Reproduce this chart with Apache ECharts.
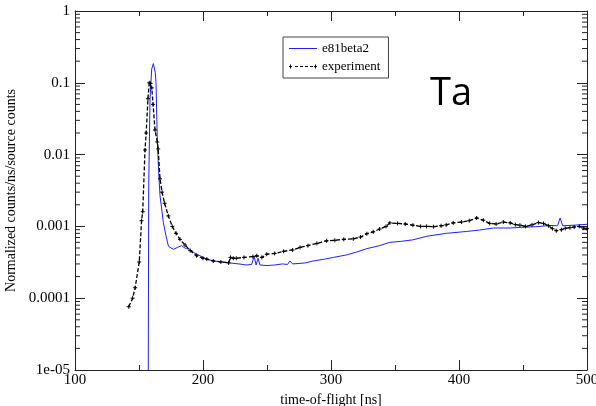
<!DOCTYPE html>
<html><head><meta charset="utf-8">
<script src="https://cdn.jsdelivr.net/npm/echarts@6/dist/echarts.min.js"></script>
<style>html,body{margin:0;padding:0;background:#fff}#c{width:596px;height:406px}</style>
</head><body><div id="c"></div>
<script>
// --- data ---
const simT = [157.2,157.6,158.6,159.9,161.2,162,162.7,163.3,164.3,165.3,166.4,169,171,173,175,177,178,180,183.3,185,187,190,193,197.7,203,208,214,221,228,234,238,240,241.5,243,244.5,250,256,262,266,268,270,280,286,295,302,312,320,328,338,346,355,364,375,390,406,416,427,440,449,460,471,477,479,481,490,500];
const simV = [5e-6,3.6e-3,0.059,0.155,0.185,0.188,0.14,0.1,0.016,0.006,0.0027,1.14e-3,7.5e-4,5.3e-4,5.0e-4,4.8e-4,5.0e-4,5.1e-4,5.4e-4,5.1e-4,4.9e-4,4.8e-4,4.3e-4,3.9e-4,3.5e-4,3.3e-4,3.2e-4,3.1e-4,3.0e-4,2.9e-4,2.95e-4,3.8e-4,2.9e-4,3.6e-4,2.9e-4,2.85e-4,2.9e-4,3.0e-4,2.95e-4,3.3e-4,3.0e-4,3.1e-4,3.3e-4,3.5e-4,3.7e-4,4.0e-4,4.4e-4,4.9e-4,5.4e-4,6.0e-4,6.2e-4,6.5e-4,7.3e-4,8.0e-4,8.5e-4,8.9e-4,9.5e-4,9.5e-4,9.7e-4,9.9e-4,1.03e-3,1.02e-3,1.31e-3,1.02e-3,1.04e-3,1.07e-3];
const expT = [142,145,147,150.2,152,152.9,154.7,155.6,157,158,159,160,161,162.5,164.3,165,166.4,168,170,172.9,176,179,182,186,190,195,200,203,208,214,220,221.5,223.7,226,232,239,242,246,249.8,256,263,270,275.8,282,289,296.6,303,310,317.4,323,328,333,338,343,346,352,358,364,370,374.7,380,386,390,395.5,402,408,413.8,419,424,429,434.6,440,444,447.6,452,457,462,466,470,473,476,480,483,486.7,490,494,497,500];
const expV = [7.6e-5,1.0e-4,1.4e-4,3.2e-4,1.2e-3,1.6e-3,0.0116,0.02,0.06,0.1,0.098,0.085,0.05,0.022,0.015,0.012,0.0046,0.003,0.0021,0.0014,0.001,8e-4,6.6e-4,5.5e-4,4.6e-4,3.9e-4,3.6e-4,3.5e-4,3.3e-4,3.2e-4,3.1e-4,3.7e-4,3.6e-4,3.6e-4,3.7e-4,3.8e-4,3.9e-4,3.7e-4,4.1e-4,4.2e-4,4.5e-4,4.7e-4,5.1e-4,5.4e-4,5.8e-4,6.3e-4,6.4e-4,6.6e-4,6.7e-4,7.1e-4,7.9e-4,8.4e-4,9.2e-4,1.0e-3,1.12e-3,1.1e-3,1.08e-3,1.04e-3,1.0e-3,1.0e-3,0.99e-3,1.02e-3,1.05e-3,1.12e-3,1.15e-3,1.2e-3,1.31e-3,1.22e-3,1.1e-3,1.08e-3,1.15e-3,1.12e-3,1.06e-3,1.04e-3,1.0e-3,1.05e-3,1.13e-3,1.1e-3,1.02e-3,0.93e-3,0.87e-3,0.9e-3,0.94e-3,0.96e-3,0.98e-3,1.0e-3,0.95e-3,0.93e-3];
const yTickLabels = {'-5':'1e-05','-4':'0.0001','-3':'0.001','-2':'0.01','-1':'0.1','0':'1'};
const xTickLabels = ['100','200','300','400','500'];
const seriesNames = ['e81beta2','experiment'];

// --- chart ---
const zip = (a,b)=>a.map((t,i)=>[t,b[i]]);
const minorY = [];
for (let e=-5;e<0;e++) for (let k=2;k<=9;k++) minorY.push([100, k*Math.pow(10,e)]);
const serif = 'Liberation Serif';
const ax = '#222';
const iconBlue = 'path://M0,0h0.01v0.01h-0.01z M0,2.5h28v1h-28z M0,5.99h0.01v0.01h-0.01z';
const iconBlack = 'path://M0,2.5h3v1h-3z M1,1h1v4h-1z M6,2.5h3v1h-3z M11,2.5h3v1h-3z M16,2.5h3v1h-3z M21,2.5h3v1h-3z M25,2.5h3v1h-3z M26,1h1v4h-1z M0,0h0.01v0.01h-0.01z M0,5.99h0.01v0.01h-0.01z';
const chart = echarts.init(document.getElementById('c'));
const richT = {t:{fontFamily:serif, fontSize:15, color:'#000', fontWeight:'normal'}};
const xBase = {type:'value', min:100, max:500, interval:100,
  axisLine:{show:true, onZero:false, lineStyle:{color:ax, width:1}},
  axisTick:{show:true, inside:true, length:10, lineStyle:{color:ax}},
  minorTick:{show:true, splitNumber:2, length:5, lineStyle:{color:ax}},
  splitLine:{show:false}};
const yBase = {type:'log', min:1e-5, max:1, logBase:10,
  axisLine:{show:true, onZero:false, lineStyle:{color:ax, width:1}},
  axisTick:{show:true, inside:true, length:10, lineStyle:{color:ax}},
  splitLine:{show:false}};
chart.setOption({
  animation:false,
  backgroundColor:'#fff',
  textStyle:{fontFamily:serif},
  title:{text:'Ta', left:425, top:70, textStyle:{fontFamily:'Open Sans', fontWeight:'normal', fontSize:38, color:'#000'}},
  grid:{left:75, right:9, top:11, bottom:36, containLabel:false, outerBoundsMode:'none'},
  legend:{data:[{name:'e81beta2', icon:iconBlue, itemStyle:{color:'#1f1fff', borderWidth:0}},
                {name:'experiment', icon:iconBlack, itemStyle:{color:'#000', borderWidth:0}}],
    orient:'vertical', left:283, top:37, itemWidth:28, itemHeight:6, itemGap:5,
    padding:[5,8,5,6], borderColor:'#444', borderWidth:1, backgroundColor:'#fff',
    textStyle:{fontFamily:serif, fontSize:13, color:'#000'}},
  xAxis:[
    Object.assign({}, xBase, {position:'bottom', name:'time-of-flight [ns]', nameLocation:'middle', nameGap:18,
      nameTextStyle:{fontFamily:serif, fontSize:14, color:'#000'},
      axisLabel:{margin:3, fontFamily:serif, fontSize:15, color:'#000', rich:richT,
        formatter:(v)=>'{t|' + (xTickLabels[Math.round((v-100)/100)] ?? '') + '}'}}),
    Object.assign({}, xBase, {position:'top', axisLabel:{show:false}})
  ],
  yAxis:[
    Object.assign({}, yBase, {position:'left', name:'Normalized counts/ns/source counts', nameLocation:'middle', nameGap:46,
      nameTextStyle:{fontFamily:serif, fontSize:14, color:'#000'},
      axisLabel:{margin:5, fontFamily:serif, fontSize:15, color:'#000', rich:richT,
        formatter:(v)=>'{t|' + (yTickLabels[String(Math.round(Math.log10(v)))] ?? '') + '}'}}),
    Object.assign({}, yBase, {position:'right', axisLabel:{show:false}})
  ],
  series:[
    {name:'e81beta2', type:'line', data:zip(simT,simV), showSymbol:false, symbol:'none',
      lineStyle:{color:'#1f1fff', width:1}, itemStyle:{color:'#1f1fff'}, clip:true},
    {name:'experiment', type:'line', data:zip(expT,expV), symbol:'path://M0,5L10,5M5,0L5,10', symbolSize:4,
      showSymbol:true, lineStyle:{color:'#000', width:1.3, type:[4,2]},
      itemStyle:{color:'#000', borderColor:'#000', borderWidth:1}, clip:true},
    {name:'minorTicksY', type:'custom', silent:true, data:minorY, encode:{x:0,y:1}, clip:false,
      renderItem:(params, api)=>{
        const v = api.value(1);
        const pL = api.coord([100, v]);
        const pR = api.coord([500, v]);
        const st = {stroke:ax, lineWidth:1};
        return {type:'group', children:[
          {type:'line', shape:{x1:pL[0], y1:pL[1], x2:pL[0]+5, y2:pL[1]}, style:st},
          {type:'line', shape:{x1:pR[0], y1:pR[1], x2:pR[0]-5, y2:pR[1]}, style:st}
        ]};
      }}
  ]
});
</script></body></html>
